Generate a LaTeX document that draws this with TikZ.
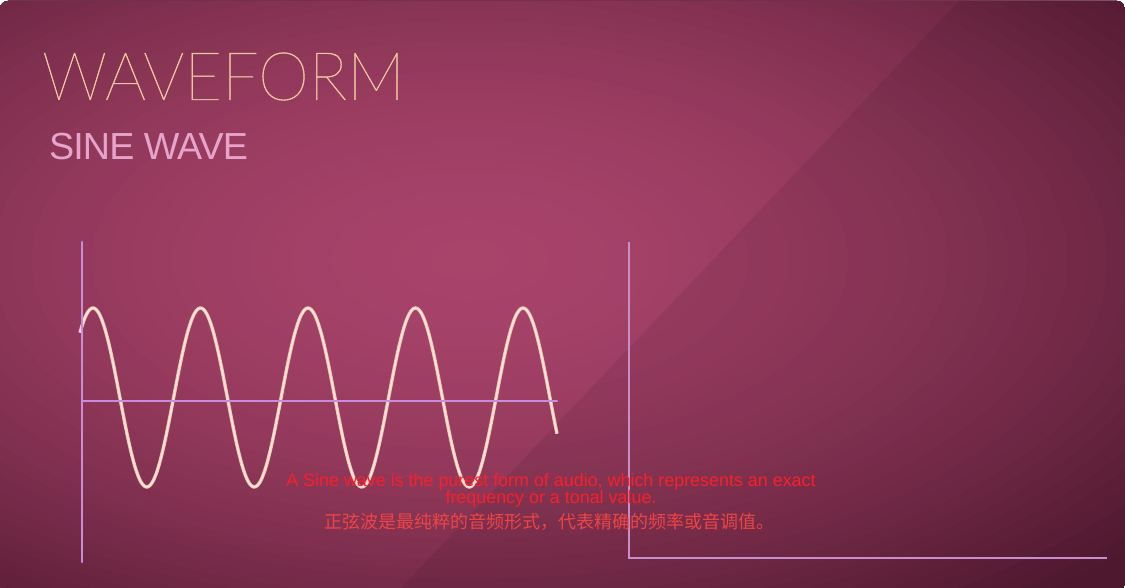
\documentclass[tikz,border=0pt]{standalone}
\usepackage{fontspec}
\IfFontExistsTF{Lato Thin}{\newfontfamily\thinf{Lato Thin}[FakeBold=0.6]}{%
 \IfFontExistsTF{Fira Sans Light}{\newfontfamily\thinf{Fira Sans Light}}{%
  \IfFontExistsTF{Lato Light}{\newfontfamily\thinf{Lato Light}}{%
   \newfontfamily\thinf{Liberation Sans}}}}
\newfontfamily\sansf{Liberation Sans}
\newfontfamily\cjk{Noto Sans CJK SC}
\definecolor{bg0}{HTML}{A8436A}
\definecolor{bg5}{HTML}{541A32}
\definecolor{axisc}{HTML}{C88CDA}
\definecolor{axisr}{HTML}{C98DCB}
\definecolor{wavec}{HTML}{F2C5B2}
\definecolor{wavein}{HTML}{FBE7DC}
\definecolor{titlec}{HTML}{EFC6A0}
\definecolor{subc}{HTML}{E6A4CB}
\definecolor{capen}{HTML}{F8202A}
\definecolor{capzh}{HTML}{EE4444}
\tikzset{
  axisline/.style={line width=2.6pt, axisc, line cap=round},
  axisright/.style={line width=2.6pt, axisr},
  titletext/.style={inner sep=0pt, anchor=base west, text=titlec, font=\thinf\fontsize{67}{67}\selectfont},
  subtext/.style={inner sep=0pt, anchor=base west, text=subc, font=\sansf\addfontfeatures{LetterSpace=-2.5}\fontsize{37.7}{38}\selectfont},
  captext/.style={inner sep=0pt, anchor=base, text=capen, font=\sansf\fontsize{17.9}{18}\selectfont},
  captextzh/.style={inner sep=0pt, anchor=base, text=capzh, font=\cjk\fontsize{18}{18}\selectfont},
}
\begin{document}
\begin{tikzpicture}[x=1pt,y=-1pt]
\useasboundingbox (0,0) rectangle (1125,588);
\fill[white] (0,0) rectangle (1125,588);
\begin{scope}
\clip[rounded corners=8pt] (0,1) rectangle (1125,592);
\fill[bg5] (0,0) rectangle (1125,588);
\foreach \i in {0,...,49}{
  \pgfmathsetmacro\rr{76-1.52*\i}
  \pgfmathsetmacro\pp{min(100,100*(\rr/68)^1.8)}
  \pgfmathsetmacro\rx{\rr*13.1}
  \pgfmathsetmacro\ry{\rr*6.56}
  \fill[bg5!\pp!bg0] (470,260) ellipse [x radius=\rx, y radius=\ry];
}
\fill[black,opacity=0.07] (960,0) -- (401,588) -- (1125,588) -- (1125,0) -- cycle;
\end{scope}
% titles
\node[titletext] (title) at (42,100) {\scalebox{0.966}[1]{WAVEFORM}};
\node[subtext] (sub) at (49,160) {SINE WAVE};
% left graph
\coordinate (ltop) at (82,242);
\coordinate (lbot) at (82,562);
\coordinate (lx0) at (82,401);
\coordinate (lx1) at (557,401);
\draw[line width=3.4pt, wavec] plot[domain=80:557, samples=240, smooth] (\x,{397.5-89.5*cos((\x-93)*3.348837)});
\draw[line width=1.5pt, wavein] plot[domain=80:557, samples=240, smooth] (\x,{397.5-89.5*cos((\x-93)*3.348837)});
\draw[axisline] (ltop) -- (lbot);
\draw[axisline] (lx0) -- (lx1);
% right graph
\coordinate (rtop) at (629,242);
\coordinate (rorg) at (629,558);
\coordinate (rend) at (1107,558);
\draw[axisright] (rtop) -- (rorg) -- (rend);
% captions
\node[captext] (cap1) at (551,486) {A Sine wave is the purest form of audio, which represents an exact};
\node[captext] (cap2) at (551,503) {frequency or a tonal value.};
\node[captextzh] (cap3) at (549,528) {正弦波是最纯粹的音频形式，代表精确的频率或音调值。};
\end{tikzpicture}
\end{document}
